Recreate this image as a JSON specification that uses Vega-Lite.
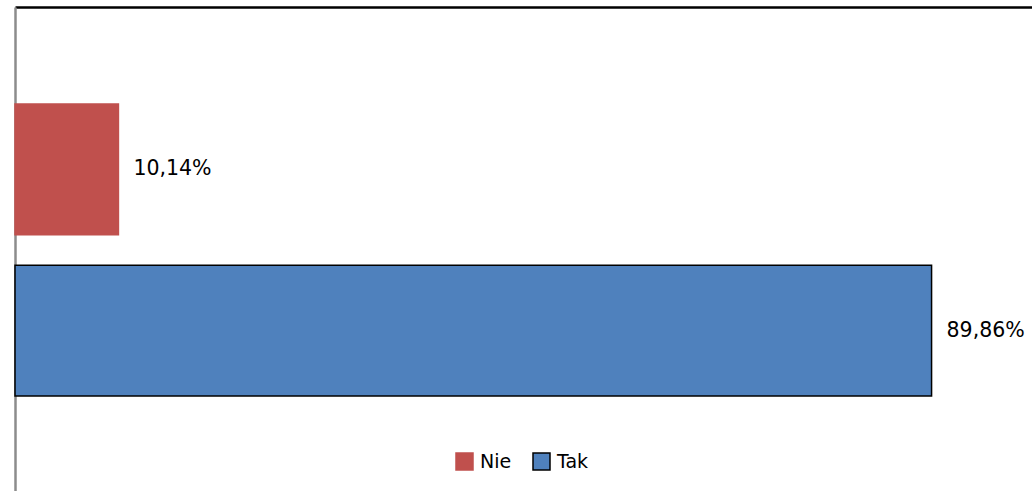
{
  "$schema": "https://vega.github.io/schema/vega-lite/v6.json",
  "autosize": "none",
  "padding": {"left": 15, "top": 7, "right": 0, "bottom": 0},
  "width": 1020,
  "height": 486,
  "background": "white",
  "config": {"view": {"stroke": null}, "font": "DejaVu Sans"},
  "data": {"values": [
    {"kategoria": "Nie", "wartosc": 10.14, "etykieta": "10,14%"},
    {"kategoria": "Tak", "wartosc": 89.86, "etykieta": "89,86%"}
  ]},
  "encoding": {
    "y": {"field": "kategoria", "type": "nominal", "sort": ["Nie", "Tak"],
      "scale": {"paddingInner": 0.19, "paddingOuter": 0.6},
      "axis": {"title": null, "labels": false, "ticks": false, "domainColor": "#8c8c8c", "domainWidth": 2.5}},
    "x": {"field": "wartosc", "type": "quantitative",
      "scale": {"domain": [0, 100], "nice": false},
      "axis": {"orient": "top", "title": null, "labels": false, "ticks": false, "grid": false, "domainColor": "#000000", "domainWidth": 2.5}}
  },
  "layer": [
    {
      "mark": {"type": "bar", "strokeWidth": 1.5},
      "encoding": {
        "fill": {"field": "kategoria", "type": "nominal",
          "scale": {"domain": ["Nie", "Tak"], "range": ["#C0504D", "#4F81BD"]},
          "legend": {"title": null, "orient": "none", "legendX": 440, "legendY": 445, "direction": "horizontal",
            "symbolType": "square", "symbolSize": 289, "symbolStrokeWidth": 1.5, "labelFontSize": 19, "labelFont": "DejaVu Sans",
            "labelColor": "#000000", "labelOffset": 6, "columnPadding": 18, "symbolOpacity": 1}},
        "stroke": {"field": "kategoria", "type": "nominal",
          "scale": {"domain": ["Nie", "Tak"], "range": ["#C0504D", "#000000"]}}
      }
    },
    {
      "mark": {"type": "text", "align": "left", "baseline": "middle", "dx": 15, "fontSize": 20.5, "color": "#000000"},
      "encoding": {"text": {"field": "etykieta", "type": "nominal"}}
    }
  ]
}
